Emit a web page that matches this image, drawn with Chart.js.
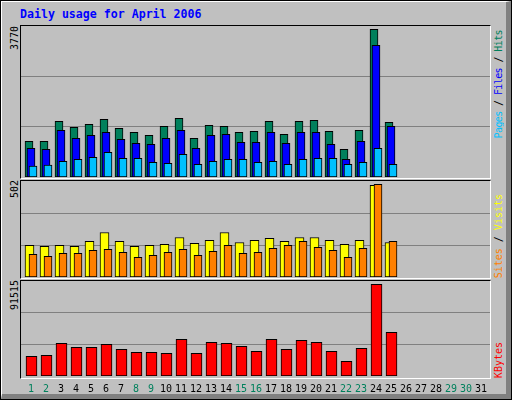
<!DOCTYPE html>
<html>
<head>
<meta charset="utf-8">
<script src="https://cdn.jsdelivr.net/npm/chart.js@4.4.1/dist/chart.umd.min.js"></script>
<style>
  body { margin: 0; background: #fff; }
  #wrap { position: relative; width: 512px; height: 400px; background: #c0c0c0; overflow: hidden; }
  #wrap div, #wrap canvas { position: absolute; box-sizing: border-box; }
  .outer { left: 0; top: 0; width: 512px; height: 400px; border: 1px solid #000; }
  .bevel { left: 1px; top: 1px; width: 510px; height: 398px; border-style: solid; border-width: 1px 5px 5px 1px; border-color: #fff #808080 #808080 #fff; }
  .panel { left: 20px; width: 471px; border-style: solid; border-width: 1px; border-color: #000 #fff #fff #000; }
  .title { left: 20px; top: 8px; font: bold 11.6px "DejaVu Sans Mono", monospace; color: #0000ff; line-height: 13px; white-space: nowrap; }
  .up { writing-mode: vertical-rl; transform: rotate(180deg); font: 10px "DejaVu Sans Mono", monospace; line-height: 10px; white-space: nowrap; color: #000; }
</style>
</head>
<body>
<div id="wrap">
  <div class="outer"></div>
  <div class="bevel"></div>
  <div class="title">Daily usage for April 2006</div>

  <div class="panel" style="top:25px;height:154px"></div>
  <div class="panel" style="top:180px;height:99px"></div>
  <div class="panel" style="top:280px;height:99px"></div>

  <div class="up" id="max1" style="left:10px;bottom:350px"></div>
  <div class="up" id="max2" style="left:10px;bottom:202px"></div>
  <div class="up" id="max3" style="left:10px;bottom:90px"></div>

  <div class="up" style="left:494px;bottom:262px;letter-spacing:-0.6px"><span style="color:#00c0ff">Pages</span> / <span style="color:#0000ff">Files</span> / <span style="color:#00805c">Hits</span></div>
  <div class="up" style="left:494px;bottom:122px"><span style="color:#ff8000">Sites</span> / <span style="color:#ffff00">Visits</span></div>
  <div class="up" style="left:494px;bottom:22px"><span style="color:#ff0000">KBytes</span></div>

  <canvas id="c1" width="469" height="151" style="left:21px;top:26px"></canvas>
  <canvas id="c2" width="469" height="96" style="left:21px;top:181px"></canvas>
  <canvas id="c3" width="469" height="115" style="left:21px;top:281px"></canvas>
</div>
<script>
const days = [];
for (let d = 1; d <= 31; d++) days.push(d);
const weekendDays = [1, 2, 8, 9, 15, 16, 22, 23, 29, 30];

// days 1..25 (rest of the month has no data yet)
const hits   = [911, 911, 1422, 1268, 1345, 1473, 1243, 1141, 1064, 1294, 1498, 988, 1319,
                1294, 1141, 1166, 1422, 1090, 1422, 1447, 1166, 707, 1192, 3770, 1396];
const files  = [732, 707, 1192, 988, 1064, 1141, 962, 860, 835, 988, 1192, 732, 1064,
                1090, 886, 886, 1141, 860, 1141, 1141, 835, 452, 911, 3361, 1294];
const pages  = [281, 306, 401, 452, 503, 630, 477, 477, 375, 350, 579, 324, 401,
                452, 452, 375, 401, 324, 452, 477, 477, 324, 375, 732, 324];
const visits = [171, 166, 171, 166, 193, 241, 193, 166, 171, 177, 214, 182, 198,
                241, 187, 198, 209, 193, 214, 214, 198, 177, 198, 497, 187];
const sites  = [123, 112, 128, 128, 144, 150, 133, 106, 117, 133, 150, 117, 139,
                171, 128, 133, 155, 171, 193, 160, 144, 106, 155, 502, 193];
const kbytes = [19660, 20660, 32630, 28640, 28640, 31640, 26650, 23650, 23650, 22650, 36630, 22650, 33630,
                32630, 29640, 24650, 36630, 26650, 35630, 33630, 24650, 14670, 27640, 91515, 43610];

// 15px per day, day 1 centred 10px into the plot
const PX_PER_DAY = 15;
const xMin = 1 - 10 / PX_PER_DAY;
const xMax = xMin + 469 / PX_PER_DAY;

function bars(values, color, width, shiftPx, order) {
  return {
    data: values.map((v, i) => ({ x: days[i] + shiftPx / PX_PER_DAY, y: v })),
    backgroundColor: color,
    borderColor: '#000',
    borderWidth: 1,
    borderSkipped: false,
    barThickness: width,
    grouped: false,
    order: order
  };
}

function panelChart(id, plotHeight, datasets, maxVal, showX) {
  // leave ~3px of room above the tallest bar, like the original
  const yMax = maxVal * plotHeight / (plotHeight - 3.3);
  return new Chart(document.getElementById(id), {
    type: 'bar',
    data: { datasets: datasets },
    options: {
      responsive: false,
      animation: false,
      devicePixelRatio: 1,
      layout: { padding: 0 },
      plugins: { legend: { display: false }, tooltip: { enabled: false } },
      scales: {
        x: {
          type: 'linear',
          offset: false,
          min: xMin,
          max: xMax,
          display: showX,
          grid: { display: false, drawTicks: false, offset: false },
          border: { display: false },
          afterBuildTicks: s => { s.ticks = days.map(d => ({ value: d })); },
          afterFit: s => {
            if (showX) s.height = 20;
            s.paddingLeft = 0;
            s.paddingRight = 0;
          },
          ticks: {
            autoSkip: false,
            maxRotation: 0,
            padding: 7,
            font: { family: 'DejaVu Sans Mono', size: 10 },
            color: ctx => weekendDays.includes(ctx.tick.value) ? '#00805c' : '#000',
            callback: v => String(v)
          }
        },
        y: {
          min: 0,
          max: yMax,
          grid: { color: '#808080', drawTicks: false },
          border: { display: false },
          ticks: { display: false },
          afterBuildTicks: s => { s.ticks = [{ value: yMax / 3 }, { value: 2 * yMax / 3 }]; },
          afterFit: s => { s.width = 0; s.paddingTop = 0; s.paddingBottom = 0; }
        }
      }
    }
  });
}

const topMax = Math.max(...hits);
const midMax = Math.max(...sites, ...visits);
const botMax = Math.max(...kbytes);
document.getElementById('max1').textContent = topMax;
document.getElementById('max2').textContent = midMax;
document.getElementById('max3').textContent = botMax;

panelChart('c1', 151, [
  bars(hits, '#00805c', 8, -2, 3),
  bars(files, '#0000ff', 8, 0, 2),
  bars(pages, '#00c0ff', 8, 2, 1)
], topMax, false);

panelChart('c2', 96, [
  bars(visits, '#ffff00', 9, -1.5, 2),
  bars(sites, '#ff8000', 8, 2, 1)
], midMax, false);

panelChart('c3', 95, [
  bars(kbytes, '#ff0000', 11, 0.5, 1)
], botMax, true);
</script>
</body>
</html>
